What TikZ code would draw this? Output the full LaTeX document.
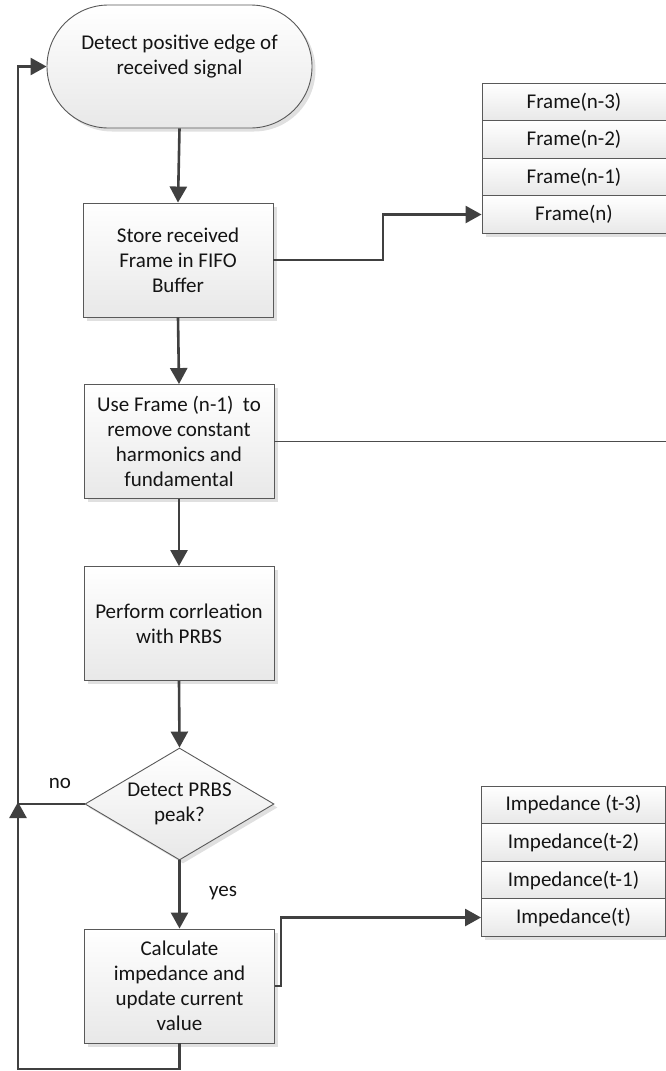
\documentclass[tikz,border=0pt]{standalone}
\usepackage{fontspec}
\setmainfont{Carlito}
\usetikzlibrary{arrows.meta,shapes.geometric,shapes.misc,shadows}

\begin{document}
\begin{tikzpicture}[x=1pt,y=-1pt,
  font=\fontsize{21}{25}\selectfont,
  every node/.style={text=black!92},
  shade/.style={top color=white, bottom color=black!9},
  shad/.style={drop shadow={shadow xshift=3.5pt, shadow yshift=-3.5pt, fill=black!12, opacity=1}},
  proc/.style={draw=black!65, line width=0.9pt, shade, shad,
    minimum width=190pt, minimum height=114pt, align=center, inner sep=0pt},
  term/.style={draw=black!65, line width=0.9pt, shade, shad,
    rounded rectangle, minimum width=265pt, minimum height=123pt, inner sep=0pt},
  decide/.style={draw=black!65, line width=0.9pt, shade, shad,
    diamond, aspect=1.69, minimum width=189pt, minimum height=112pt, inner sep=0pt, align=center},
  cell/.style={draw=black!65, line width=0.9pt, shade, shad,
    minimum width=184pt, minimum height=37.5pt, inner sep=0pt},
  flow/.style={draw=black!75, line width=2.6pt, -{Triangle[length=16pt,width=17pt]}},
  thin/.style={draw=black!70, line width=1pt},
  lbl/.style={inner sep=0pt}
]
\useasboundingbox (0,0) rectangle (666,1071);

% terminal: start of the loop
\node[term] (start) at (179.5,66.5) {};
\node[lbl, align=center] (starttext) at (179.5,57) {Detect positive edge of\\received signal};

% process steps
\node[proc] (store) at (178,260) {Store received\\Frame in FIFO\\Buffer};
\node[proc] (use) at (179,441.5) {Use Frame (n-1)~ to\\remove constant\\harmonics and\\fundamental};
\node[proc] (corr) at (179,623.5) {Perform corrleation\\with PRBS};
\node[decide] (peak) at (179.5,804) {Detect PRBS\\peak?};
\node[proc] (calc) at (179.5,986) {Calculate\\impedance and\\update current\\value};

% FIFO frame buffer
\node[cell] (f3) at (574,102) {Frame(n-3)};
\node[cell] (f2) at (574,139.5) {Frame(n-2)};
\node[cell] (f1) at (574,177) {Frame(n-1)};
\node[cell] (f0) at (574,214.5) {Frame(n)};

% impedance history
\node[cell] (z3) at (573.5,805) {Impedance (t-3)};
\node[cell] (z2) at (573.5,842.5) {Impedance(t-2)};
\node[cell] (z1) at (573.5,880) {Impedance(t-1)};
\node[cell] (z0) at (573.5,917.5) {Impedance(t)};

% branch labels
\node[lbl] (nolbl) at (60,783) {no};
\node[lbl] (yeslbl) at (223,893) {yes};

% helper coordinates
\coordinate (loopx) at (18,0);
\coordinate (rightend) at (666,441.5);

% main flow
\draw[flow] (start.south) -- (store.north);
\draw[flow] (store.south) -- (use.north);
\draw[flow] (use.south) -- (corr.north);
\draw[flow] (corr.south) -- (peak.north);
\draw[flow] (peak.south) -- (calc.north);

% outputs to the buffers
\draw[flow] (store.east) -- (383,260) |- (f0.west);
\draw[flow] (calc.east) -- (281,986) |- (z0.west);
\draw[thin] (use.east) -- (rightend);

% loop back on "no"
\draw[flow] (peak.west) -- (loopx |- peak.west) |- (start.west);
% loop back after updating the impedance
\draw[flow] (calc.south) -- (179.5,1069) -| ([yshift=2pt]loopx |- peak.west);
\end{tikzpicture}
\end{document}
